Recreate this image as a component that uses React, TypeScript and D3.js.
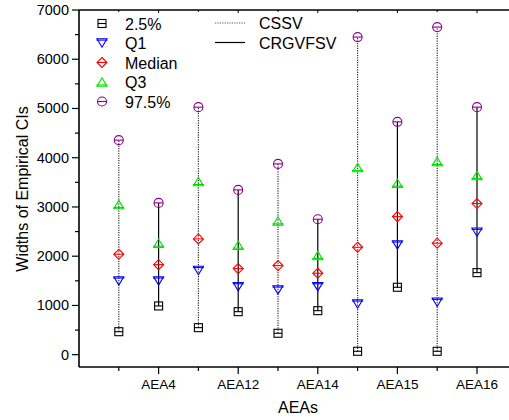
import React from "react";
import * as d3 from "d3";

// Each AEA has two intervals: CSSV (dotted) and CRGVFSV (solid)
const categories = ["AEA4", "AEA12", "AEA14", "AEA15", "AEA16"];
const groups = ["CSSV", "CRGVFSV"];

// Percentile widths, ordered AEA4 CSSV, AEA4 CRGVFSV, AEA12 CSSV, ...
const p025 = [467, 990, 549, 874, 435, 894, 69, 1369, 69, 1666];
const q1 = [1498, 1498, 1710, 1382, 1315, 1382, 1030, 2229, 1065, 2487];
const median = [2040, 1829, 2351, 1748, 1809, 1654, 2182, 2804, 2264, 3069];
const q3 = [3048, 2264, 3516, 2223, 2717, 2012, 3800, 3483, 3922, 3638];
const p975 = [4357, 3083, 5027, 3347, 3875, 2751, 6450, 4729, 6653, 5027];

const yTicks = [0, 1000, 2000, 3000, 4000, 5000, 6000, 7000];

const W = 509;
const H = 420;
const left = 79;
const top = 10;
const bottom = 367;

const x = d3.scaleLinear().domain([0, 11]).range([left, left + 39.8 * 11]);
const y = d3.scaleLinear().domain([-250, 7000]).range([bottom, top]);

const FONT = "Liberation Sans, Arial, sans-serif";

type Kind = "square" | "down" | "diamond" | "up" | "circle";

function Marker({ cx, cy, kind, color }: { cx: number; cy: number; kind: Kind; color: string }) {
  const s = 4.2;
  const common = { fill: "none", stroke: color, strokeWidth: 1.1 };
  if (kind === "square") {
    return (
      <g>
        <rect x={cx - 4} y={cy - 4} width={8} height={8} {...common} />
        <line x1={cx - 4} x2={cx + 4} y1={cy} y2={cy} {...common} />
      </g>
    );
  }
  if (kind === "circle") {
    return (
      <g>
        <circle cx={cx} cy={cy} r={4.5} {...common} />
        <line x1={cx - 4.5} x2={cx + 4.5} y1={cy} y2={cy} {...common} />
      </g>
    );
  }
  if (kind === "diamond") {
    return (
      <g>
        <path d={`M${cx},${cy - 5}L${cx + 5},${cy}L${cx},${cy + 5}L${cx - 5},${cy}Z`} {...common} />
        <line x1={cx - 5} x2={cx + 5} y1={cy} y2={cy} {...common} />
      </g>
    );
  }
  if (kind === "down") {
    return (
      <g>
        <path d={`M${cx - 5},${cy - s}L${cx + 5},${cy - s}L${cx},${cy + s}Z`} {...common} />
        <line x1={cx - 5.5} x2={cx + 5.5} y1={cy - s + 1.3} y2={cy - s + 1.3} {...common} />
      </g>
    );
  }
  return (
    <g>
      <path d={`M${cx - 5},${cy + s}L${cx + 5},${cy + s}L${cx},${cy - s}Z`} {...common} />
      <line x1={cx - 5.5} x2={cx + 5.5} y1={cy + s - 1.3} y2={cy + s - 1.3} {...common} />
    </g>
  );
}

const seriesDefs: { name: string; values: number[]; kind: Kind; color: string }[] = [
  { name: "2.5%", values: p025, kind: "square", color: "#000000" },
  { name: "Q1", values: q1, kind: "down", color: "#0000ff" },
  { name: "Median", values: median, kind: "diamond", color: "#ff0000" },
  { name: "Q3", values: q3, kind: "up", color: "#00e000" },
  { name: "97.5%", values: p975, kind: "circle", color: "#8b008b" },
];

export default function App() {
  const positions = p025.map((_, i) => i + 1);
  const minorY = d3.range(-0, 7001, 500).filter((v) => v % 1000 !== 0);

  return (
    <svg width={W} height={H} style={{ position: "absolute", left: 0, top: 0, background: "#fff" }} fontFamily={FONT}>
      <rect width={W} height={H} fill="#fff" />

      {/* interval lines from 2.5% to 97.5% */}
      {positions.map((p, i) => {
        const isCSSV = i % 2 === 0;
        return (
          <line
            key={`l${i}`}
            x1={x(p)}
            x2={x(p)}
            y1={y(p025[i])}
            y2={y(p975[i])}
            stroke={isCSSV ? "#333" : "#000"}
            strokeWidth={isCSSV ? 1.2 : 1.2}
            strokeDasharray={isCSSV ? "1.2,1.2" : undefined}
          />
        );
      })}

      {/* percentile markers */}
      {seriesDefs.map((s) =>
        s.values.map((v, i) => (
          <Marker key={`${s.name}${i}`} cx={x(positions[i])} cy={y(v)} kind={s.kind} color={s.color} />
        ))
      )}

      {/* frame */}
      <line x1={left} x2={W} y1={top} y2={top} stroke="#000" strokeWidth={1.6} />
      <line x1={left} x2={W} y1={bottom} y2={bottom} stroke="#000" strokeWidth={1.6} />
      <line x1={left} x2={left} y1={top} y2={bottom} stroke="#000" strokeWidth={1.6} />

      {/* y ticks */}
      {yTicks.map((t) => (
        <g key={`yt${t}`}>
          <line x1={left - 7} x2={left} y1={y(t)} y2={y(t)} stroke="#000" strokeWidth={1.2} />
          <text x={left - 10} y={y(t) + 5} textAnchor="end" fontSize={14.5} fill="#000">
            {t}
          </text>
        </g>
      ))}
      {minorY.map((t) => (
        <line key={`ym${t}`} x1={left - 4} x2={left} y1={y(t)} y2={y(t)} stroke="#000" strokeWidth={1.2} />
      ))}

      {/* x ticks */}
      {positions.map((p, i) => {
        const major = i % 2 === 1;
        return (
          <g key={`xt${i}`}>
            <line x1={x(p)} x2={x(p)} y1={bottom} y2={bottom + (major ? 7 : 4)} stroke="#000" strokeWidth={1.2} />
            <line x1={x(p)} x2={x(p)} y1={top} y2={top + (major ? 3 : 2)} stroke="#000" strokeWidth={1} />
          </g>
        );
      })}
      {categories.map((c, k) => (
        <text key={c} x={x(2 * k + 2)} y={389} textAnchor="middle" fontSize={13.5} fill="#000">
          {c}
        </text>
      ))}

      {/* axis titles */}
      <text x={298} y={413} textAnchor="middle" fontSize={16} fill="#000">
        AEAs
      </text>
      <text
        transform={`translate(28,189) rotate(-90)`}
        textAnchor="middle"
        fontSize={16}
        fill="#000"
      >
        Widths of Empirical CIs
      </text>

      {/* marker legend */}
      {seriesDefs.map((s, i) => {
        const ly = 23.5 + i * 19.5;
        return (
          <g key={`lg${s.name}`}>
            <Marker cx={102} cy={ly} kind={s.kind} color={s.color} />
            <text x={125} y={ly + 6} fontSize={16} fill="#000">
              {s.name}
            </text>
          </g>
        );
      })}

      {/* line-style legend */}
      {groups.map((g, i) => {
        const ly = 23 + i * 19.5;
        return (
          <g key={`lg${g}`}>
            <line
              x1={215}
              x2={245}
              y1={ly}
              y2={ly}
              stroke={i === 0 ? "#555" : "#000"}
              strokeWidth={1.2}
              strokeDasharray={i === 0 ? "1.2,1.2" : undefined}
            />
            <text x={259} y={ly + 6} fontSize={16} fill="#000">
              {g}
            </text>
          </g>
        );
      })}
    </svg>
  );
}
